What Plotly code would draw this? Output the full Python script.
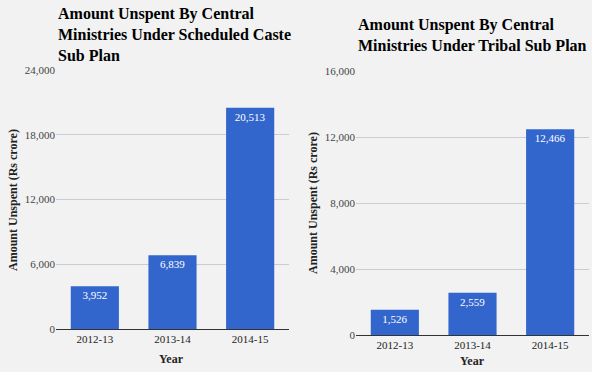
import plotly.graph_objects as go
from plotly.subplots import make_subplots

years = ["2012-13", "2013-14", "2014-15"]
sc_values = [3952, 6839, 20513]
tsp_values = [1526, 2559, 12466]
sc_ticks = [0, 6000, 12000, 18000, 24000]
tsp_ticks = [0, 4000, 8000, 12000, 16000]
sc_title = "Amount Unspent By Central<br>Ministries Under Scheduled Caste<br>Sub Plan"
tsp_title = "Amount Unspent By Central<br>Ministries Under Tribal Sub Plan"
y_title = "Amount Unspent (Rs crore)"
x_title = "Year"

W, H = 592, 372
FONT = "Liberation Serif"
BAR = "#3366cc"
BG = "#f2f2f2"

fig = make_subplots(rows=1, cols=2)

for col, vals in ((1, sc_values), (2, tsp_values)):
    fig.add_trace(go.Bar(
        x=years, y=vals, marker=dict(color=BAR, line=dict(width=0)),
        text=[f"{v:,}" for v in vals], textposition="inside",
        insidetextanchor="end", textangle=0,
        textfont=dict(family=FONT, size=11, color="white"),
        hoverinfo="skip", showlegend=False,
    ), row=1, col=col)

ax_common = dict(showgrid=False, zeroline=False, showline=True, linecolor="#333333",
                 linewidth=1, ticks="", tickfont=dict(family=FONT, size=11, color="#222222"),
                 fixedrange=True, automargin=False)
fig.update_xaxes(**ax_common)
fig.layout.xaxis.domain = [56 / W, 289 / W]
fig.layout.xaxis2.domain = [356 / W, 589 / W]

ay_common = dict(showgrid=True, gridcolor="#cccccc", gridwidth=1, zeroline=False,
                 showline=False, ticks="", tickformat=",d", automargin=False,
                 tickfont=dict(family=FONT, size=11, color="#444444"), fixedrange=True)
fig.update_yaxes(**ay_common)
fig.layout.yaxis.update(domain=[1 - 329 / H, 1 - 70 / H], range=[0, 24000], tickvals=sc_ticks)
fig.layout.yaxis2.update(domain=[1 - 335 / H, 1 - 71 / H], range=[0, 16000], tickvals=tsp_ticks)

fig.update_layout(bargap=0.38)

ann = []
ann.append(dict(text="<b>" + sc_title + "</b>", x=56 / W, y=1 - 3 / H, xref="paper", yref="paper",
                xanchor="left", yanchor="top", align="left", showarrow=False,
                font=dict(family=FONT, size=16, color="#000000")))
ann.append(dict(text="<b>" + tsp_title + "</b>", x=356 / W, y=1 - 14 / H, xref="paper", yref="paper",
                xanchor="left", yanchor="top", align="left", showarrow=False,
                font=dict(family=FONT, size=16, color="#000000")))
for xc, yc in ((13, 200), (313, 203)):
    ann.append(dict(text="<b>" + y_title + "</b>", x=xc / W, y=1 - yc / H, xref="paper", yref="paper",
                    xanchor="center", yanchor="middle", textangle=-90, showarrow=False,
                    font=dict(family=FONT, size=12, color="#222222")))
for xc, yc in ((172, 359), (472, 361)):
    ann.append(dict(text="<b>" + x_title + "</b>", x=xc / W, y=1 - yc / H, xref="paper", yref="paper",
                    xanchor="center", yanchor="middle", showarrow=False,
                    font=dict(family=FONT, size=12, color="#222222")))

fig.update_layout(
    template="none",
    width=W, height=H, margin=dict(l=0, r=0, t=0, b=0, pad=0),
    paper_bgcolor=BG, plot_bgcolor=BG, annotations=ann,
    font=dict(family=FONT),
)

fig.write_html("out.html", config={"displayModeBar": False},
               post_script="document.body.style.margin='0';document.body.style.overflow='hidden';")
